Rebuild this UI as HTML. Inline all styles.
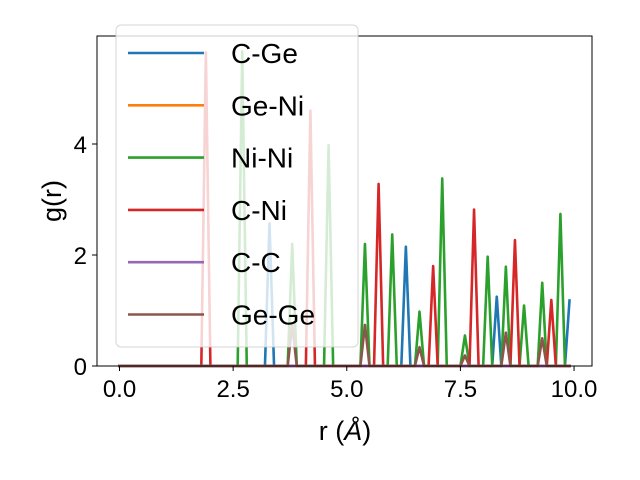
<!DOCTYPE html>
<html><head><meta charset="utf-8">
<style>
html,body{margin:0;padding:0;background:#fff;}
svg{display:block;font-family:"Liberation Sans","DejaVu Sans",sans-serif;}
</style></head>
<body>
<svg id="chart" width="640" height="480" viewBox="0 0 640 480">
  <rect x="0" y="0" width="640" height="480" fill="#fff"/>
  <g id="plot"></g>
  <rect x="97" y="36" width="495" height="330" fill="none" stroke="#000" stroke-width="1"/>
  <g id="xticks"></g>
  <g id="yticks"></g>
  <text x="345" y="440" font-size="27" text-anchor="middle">r (<tspan font-style="italic">Å</tspan>)</text>
  <text transform="translate(61,201) rotate(-90)" font-size="27" text-anchor="middle">g(r)</text>
  <g id="legend"></g>
</svg>
<script>
const seriesNames = ["C-Ge","Ge-Ni","Ni-Ni","C-Ni","C-C","Ge-Ge"];
const seriesColors = ["#1f77b4","#ff7f0e","#2ca02c","#d62728","#9467bd","#8c564b"];
// peaks: [r, g] pairs on a 0.1 grid from 0 to 9.9; all other points are 0
const peaksCGe = [[3.3,2.57],[6.3,2.15],[8.3,1.25],[9.9,1.18]];
const peaksGeNi = [];
const peaksNiNi = [[2.7,5.67],[3.8,2.2],[4.6,3.98],[5.4,2.2],[6.0,2.37],[6.6,0.98],[7.1,3.38],[7.6,0.55],[8.1,1.97],[8.5,1.79],[8.9,1.09],[9.3,1.5],[9.7,2.74]];
const peaksCNi = [[1.9,5.65],[4.2,4.6],[5.7,3.28],[6.9,1.8],[7.8,2.82],[8.7,2.27],[9.5,1.19]];
const peaksCC = [];
const peaksGeGe = [[3.8,0.75],[5.4,0.74],[6.6,0.34],[7.6,0.19],[8.5,0.6],[9.3,0.5]];
const xTickValues = [0,2.5,5,7.5,10];
const xTickLabels = ["0.0","2.5","5.0","7.5","10.0"];
const yTickValues = [0,2,4];
const yTickLabels = ["0","2","4"];

const NS="http://www.w3.org/2000/svg";
const X0=97,X1=592,Y0=36,Y1=366;
const xMin=-0.495,xMax=10.395,yMin=0,yMax=5.946;
function xs(v){return X0+(v-xMin)/(xMax-xMin)*(X1-X0);}
function ys(v){return Y1-(v-yMin)/(yMax-yMin)*(Y1-Y0);}
function mk(tag,attrs,parent){const e=document.createElementNS(NS,tag);for(const k in attrs)e.setAttribute(k,attrs[k]);parent.appendChild(e);return e;}

const allPeaks=[peaksCGe,peaksGeNi,peaksNiNi,peaksCNi,peaksCC,peaksGeGe];
const plot=document.getElementById('plot');
allPeaks.forEach((pk,si)=>{
  const vals=new Array(100).fill(0);
  pk.forEach(p=>{const i=Math.round(p[0]*10);if(i>=0&&i<100)vals[i]=p[1];});
  let d="";
  for(let i=0;i<100;i++){d+=(i?"L":"M")+xs(i/10).toFixed(2)+" "+ys(vals[i]).toFixed(2);}
  const path=mk('path',{d:d,fill:"none",stroke:seriesColors[si],"stroke-width":2.6,"stroke-linejoin":"round","stroke-linecap":"square"},plot);
  
  
});

const xt=document.getElementById('xticks');
xTickValues.forEach((v,i)=>{
  const x=xs(v);
  const t=mk('line',{x1:x,y1:Y1,x2:x,y2:Y1+5,stroke:"#000","stroke-width":1},xt);
  
  
  const l=mk('text',{x:x,y:397,"font-size":24,"text-anchor":"middle"},xt);
  l.textContent=xTickLabels[i];
  
  
});
const yt=document.getElementById('yticks');
yTickValues.forEach((v,i)=>{
  const y=ys(v);
  const t=mk('line',{x1:X0-5,y1:y,x2:X0,y2:y,stroke:"#000","stroke-width":1},yt);
  
  
  const l=mk('text',{x:87,y:y+9,"font-size":24,"text-anchor":"end"},yt);
  l.textContent=yTickLabels[i];
  
  
});

const lg=document.getElementById('legend');
const box=mk('rect',{x:116,y:25,width:242,height:322,rx:5,fill:"#fff","fill-opacity":0.8,stroke:"#ccc","stroke-opacity":0.8},lg);


seriesNames.forEach((n,i)=>{
  const y=53+i*52.3;
  const g=mk('g',{},lg);
  
  
  const ln=mk('line',{x1:128,y1:y,x2:204,y2:y,stroke:seriesColors[i],"stroke-width":2.6},g);
  
  
  const t=mk('text',{x:231,y:y+10,"font-size":28},g);
  t.textContent=n;
  
  
});
</script>
</body></html>
